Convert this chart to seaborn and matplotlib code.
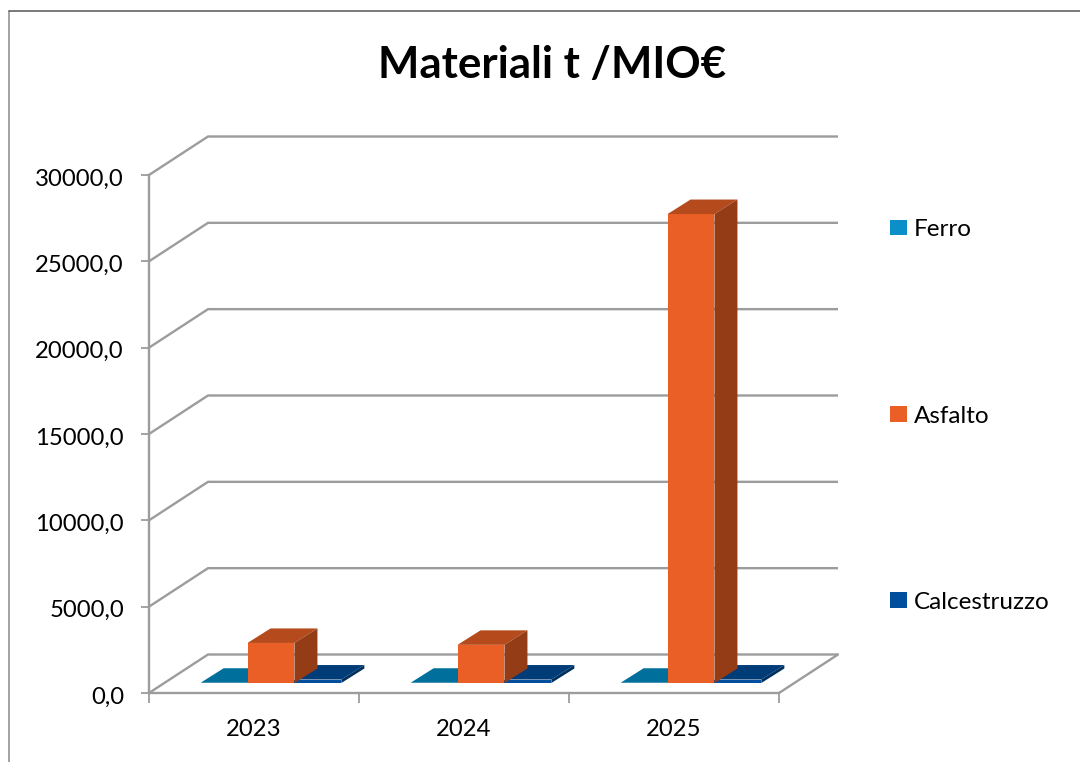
import pandas as pd
import matplotlib
matplotlib.use("Agg")
import matplotlib.pyplot as plt
from matplotlib.lines import Line2D
from matplotlib.patches import Polygon
from matplotlib.transforms import ScaledTranslation
import seaborn as sns

years = ["2023", "2024", "2025"]
ferro = [15, 15, 15]
asfalto = [2320, 2210, 27160]
calcestruzzo = [200, 200, 200]
series_names = ["Ferro", "Asfalto", "Calcestruzzo"]
y_ticks = [0, 5000, 10000, 15000, 20000, 25000, 30000]
y_labels = ["0,0", "5000,0", "10000,0", "15000,0", "20000,0", "25000,0", "30000,0"]

front_colors = ["#0a8fc9", "#ea5f26", "#004f9f"]
top_colors = ["#006f9c", "#b54a1c", "#003c78"]
side_colors = ["#005f85", "#933c16", "#00305f"]
line_color = "#9c9c9c"

W, H = 1080, 762

sns.set_theme(style="white")
plt.rcParams["font.family"] = ["Lato", "DejaVu Sans"]

df = pd.DataFrame({
    "anno": years * 3,
    "materiale": [series_names[0]] * 3 + [series_names[1]] * 3 + [series_names[2]] * 3,
    "valore": ferro + asfalto + calcestruzzo,
})

fig = plt.figure(figsize=(W / 100, H / 100), dpi=100, facecolor="white")
ax = fig.add_axes([149 / W, 1 - 693 / H, 630 / W, 518 / H])

sns.barplot(data=df, x="anno", y="valore", hue="materiale", hue_order=series_names,
            palette=dict(zip(series_names, front_colors)), width=0.67, errorbar=None,
            saturation=1, linewidth=0, ax=ax, zorder=5)

ax.set_xlim(-0.5, 2.5)
ax.set_ylim(0, 30000)

# fake 3d: offsets in data units (x = categories, y = values)
wall_dx, wall_dy = 59 / 210, 38.5 / 518 * 30000
floor_dx, floor_dy = 17 / 210, 10 / 518 * 30000
bar_dx, bar_dy = 23 / 210, 14.5 / 518 * 30000

# back wall and floor lines
for v in y_ticks:
    ax.plot([-0.5, -0.5 + wall_dx, 2.5 + wall_dx], [v, v + wall_dy, v + wall_dy],
            color=line_color, lw=1.7, clip_on=False, zorder=1, solid_capstyle="butt")
ax.plot([2.5, 2.5 + wall_dx], [0, wall_dy], color=line_color, lw=1.7, clip_on=False, zorder=1)

# bar faces, asfalto goes last so it covers the other two
draw_order = {0: 3, 2: 4, 1: 6}
for i, cont in enumerate(ax.containers):
    z = draw_order[i]
    for bar in cont:
        x0 = bar.get_x() + floor_dx
        x1 = x0 + bar.get_width()
        y0 = floor_dy
        y1 = y0 + bar.get_height()
        bar.set_x(x0)
        bar.set_y(y0)
        bar.set_zorder(z)
        bar.set_clip_on(False)
        ax.add_patch(Polygon([(x0, y1), (x1, y1), (x1 + bar_dx, y1 + bar_dy), (x0 + bar_dx, y1 + bar_dy)],
                             closed=True, fc=top_colors[i], ec="none", clip_on=False, zorder=z))
        ax.add_patch(Polygon([(x1, y0), (x1 + bar_dx, y0 + bar_dy), (x1 + bar_dx, y1 + bar_dy), (x1, y1)],
                             closed=True, fc=side_colors[i], ec="none", clip_on=False, zorder=z))

# axes
for s in ["top", "right"]:
    ax.spines[s].set_visible(False)
for s in ["left", "bottom"]:
    ax.spines[s].set_color(line_color)
    ax.spines[s].set_linewidth(1.7)
    ax.spines[s].set_zorder(2)

ax.set_xlabel("")
ax.set_ylabel("")
ax.set_yticks(y_ticks)
ax.set_yticklabels(y_labels)
ax.set_xticks([-0.5, 0.5, 1.5, 2.5], minor=True)
ax.tick_params(axis="y", direction="out", length=6, width=1.3, color=line_color, pad=12,
               labelsize=17.2, labelcolor="black", left=True)
ax.tick_params(axis="x", which="major", length=0, pad=19, labelsize=17.2, labelcolor="black")
ax.tick_params(axis="x", which="minor", direction="out", length=7, width=1.3, color=line_color, bottom=True)

# lato sits a bit higher than the original font
nudge = ScaledTranslation(0, -1.5 / 72, fig.dpi_scale_trans)
for lab in ax.get_yticklabels():
    lab.set_transform(lab.get_transform() + nudge)

# legend
leg = ax.legend(handles=[plt.Rectangle((0, 0), 1, 1, fc=c, ec="none") for c in front_colors],
                labels=series_names, loc="center left", bbox_to_anchor=(890 / W, 1 - 416 / H),
                bbox_transform=fig.transFigure, frameon=False, fontsize=17.5, labelspacing=6.8,
                handlelength=0.7, handleheight=0.6, handletextpad=0.29, borderpad=0, borderaxespad=0)
for t in leg.get_texts():
    t.set_color("black")

fig.text(552 / W, 1 - 65 / H, "Materiali t /MIO€", ha="center", va="center",
         fontsize=31.6, fontweight="bold", color="black")

# chart area border
fig.add_artist(Line2D([9 / W, 9 / W], [0, 1 - 11 / H], color="#8a8a8a", lw=1.1))
fig.add_artist(Line2D([9 / W, 1], [1 - 11 / H, 1 - 11 / H], color="#555555", lw=1.1))

fig.savefig("out.png", dpi=100)
